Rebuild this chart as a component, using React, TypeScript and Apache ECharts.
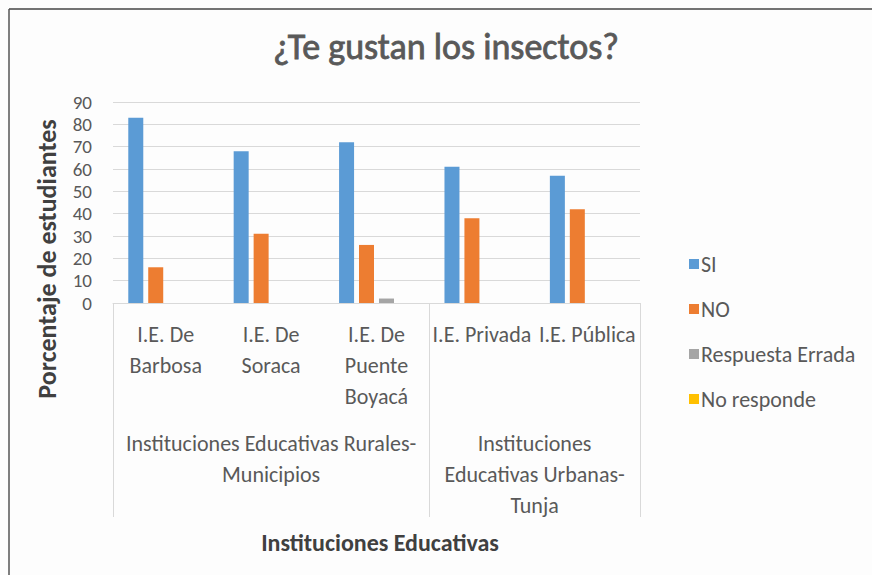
import React, { useEffect, useRef } from "react";
import * as echarts from "echarts";

// Institutions (first-level categories) and the groups they belong to
const categories = [
  "I.E. De\nBarbosa",
  "I.E. De\nSoraca",
  "I.E. De\nPuente\nBoyacá",
  "I.E. Privada",
  "I.E. Pública",
];
const groupLabels = [
  "Instituciones Educativas Rurales-\nMunicipios",
  "Instituciones\nEducativas Urbanas-\nTunja",
];
const groupSpans = [3, 2];

// Percent of students per answer
const siValues = [83, 68, 72, 61, 57];
const noValues = [16, 31, 26, 38, 42];
const erradaValues = [0, 0, 2, 0, 0];
const noRespondeValues = [0, 0, 0, 0, 0];

const yTicks = [0, 10, 20, 30, 40, 50, 60, 70, 80, 90];

const FONT = "Carlito, Calibri, 'Open Sans', sans-serif";
const TEXT = "#595959";
const GRID = "#d9d9d9";

export default function App() {
  const ref = useRef<HTMLDivElement>(null);

  useEffect(() => {
    if (!ref.current) return;
    const chart = echarts.init(ref.current, undefined, { renderer: "svg" });

    // boundaries and centres of the category groups, in category units
    const bounds: number[] = [0];
    groupSpans.forEach((s) => bounds.push(bounds[bounds.length - 1] + s));
    const centres = groupSpans.map((s, i) => bounds[i] + s / 2);

    chart.setOption({
      animation: false,
      backgroundColor: "#fdfdfd",
      textStyle: { fontFamily: FONT },
      title: {
        text: "¿Te gustan los insectos?",
        left: 441,
        textAlign: "center",
        top: 24,
        textStyle: {
          fontFamily: FONT,
          fontSize: 36,
          fontWeight: "normal",
          color: TEXT,
          textBorderColor: TEXT,
          textBorderWidth: 0.8,
        },
      },
      legend: {
        orient: "vertical",
        left: 684,
        top: 248,
        itemWidth: 10,
        itemHeight: 10,
        itemGap: 23,
        icon: "rect",
        textStyle: {
          fontFamily: FONT,
          fontSize: 22,
          lineHeight: 22,
          color: TEXT,
          padding: [0, 0, 0, -3],
        },
        data: ["SI", "NO", "Respuesta Errada", "No responde"],
      },
      grid: { left: 113, right: 232, top: 102, bottom: 272, containLabel: false },
      xAxis: [
        {
          type: "category",
          data: categories,
          position: "bottom",
          axisLine: { lineStyle: { color: GRID, width: 1 } },
          axisTick: { show: false },
          axisLabel: {
            interval: 0,
            fontFamily: FONT,
            fontSize: 22,
            lineHeight: 31,
            color: TEXT,
            margin: 16,
          },
        },
        {
          type: "value",
          min: 0,
          max: categories.length,
          position: "bottom",
          axisLine: { show: false },
          splitLine: { show: false },
          axisTick: {
            show: true,
            customValues: bounds,
            length: 214,
            lineStyle: { color: GRID, width: 1 },
          },
          axisLabel: {
            customValues: centres,
            margin: 125,
            fontFamily: FONT,
            fontSize: 22,
            lineHeight: 31,
            color: TEXT,
            formatter: (v: number) => {
              const i = centres.findIndex((c) => Math.abs(c - v) < 1e-6);
              return i >= 0 ? groupLabels[i] : "";
            },
          },
        },
      ],
      yAxis: {
        type: "value",
        min: 0,
        max: yTicks[yTicks.length - 1],
        interval: 10,
        axisLine: { show: false },
        axisTick: { show: false },
        axisLabel: {
          fontFamily: FONT,
          fontSize: 19,
          lineHeight: 19,
          color: TEXT,
          margin: 21,
        },
        splitLine: { lineStyle: { color: GRID, width: 1 } },
      },
      series: [
        { name: "SI", data: siValues, color: "#5B9BD5" },
        { name: "NO", data: noValues, color: "#ED7D31" },
        { name: "Respuesta Errada", data: erradaValues, color: "#A5A5A5" },
        { name: "No responde", data: noRespondeValues, color: "#FFC000" },
      ].map((s) => ({
        ...s,
        type: "bar",
        xAxisIndex: 0,
        barWidth: 15,
        barGap: "33%",
        itemStyle: { color: s.color },
      })),
      graphic: [
        {
          type: "line",
          shape: { x1: 9, y1: 9, x2: 872, y2: 9 },
          style: { stroke: "#444", lineWidth: 1.5 },
        },
        {
          type: "line",
          shape: { x1: 9, y1: 9, x2: 9, y2: 575 },
          style: { stroke: "#555", lineWidth: 1.5 },
        },
        {
          type: "text",
          x: 47,
          y: 259,
          rotation: Math.PI / 2,
          style: {
            text: "Porcentaje de estudiantes",
            font: `bold 26px ${FONT}`,
            fill: "#404040",
            align: "center",
            verticalAlign: "middle",
          },
        },
        {
          type: "text",
          x: 380,
          y: 542,
          style: {
            text: "Instituciones Educativas",
            font: `bold 24px ${FONT}`,
            fill: "#404040",
            align: "center",
            verticalAlign: "middle",
          },
        },
      ],
    });

    return () => chart.dispose();
  }, []);

  return (
    <div
      ref={ref}
      style={{ position: "fixed", left: 0, top: 0, width: 872, height: 575 }}
    />
  );
}
